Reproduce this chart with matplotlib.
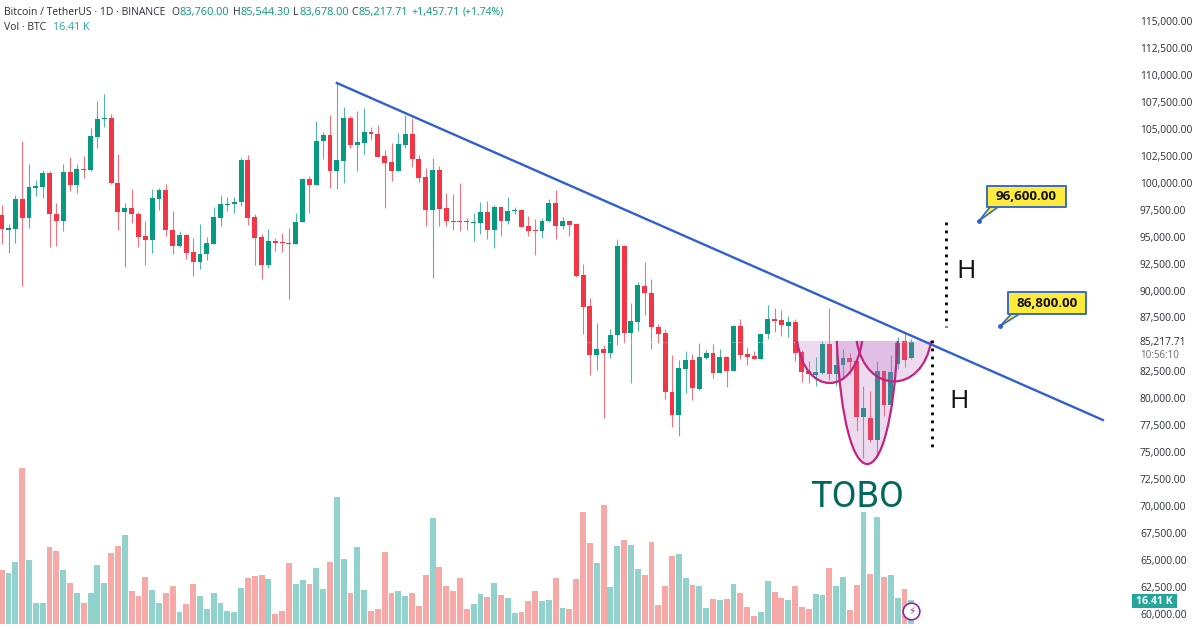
import matplotlib
matplotlib.use("Agg")
from matplotlib import pyplot as plt
from matplotlib.path import Path
from matplotlib.patches import PathPatch, Polygon, Rectangle

# daily candles
opens = [97030,95640,95710,98460,96760,99540,99630,100930,97130,96420,
         100990,99820,101270,101180,104270,105910,105970,100000,97250,97620,
         97130,95090,94690,98490,99290,95640,94100,95150,93540,92610,
         93390,94340,96760,97960,97990,98180,102110,96820,94930,92400,
         94590,94470,94410,94340,96360,100340,99790,103870,104390,101120,
         102040,105970,103530,103680,104700,104550,102480,101920,101120,103500,
         104550,102230,100500,97500,101180,97620,96480,96420,96420,96260,
         96230,97310,95610,97720,96420,97380,97470,95980,95640,95520,
         96420,98120,96020,96420,96140,91440,88560,84050,84570,84230,
         85870,94160,86030,87110,90450,89770,86650,86060,80620,78450,
         82720,83520,80900,83770,84170,82380,83830,82530,86710,84080,
         83930,83650,85940,87390,87230,86740,87050,84330,82530,82190,
         82380,85010,82260,83060,83740,83430,78270,78200,76100,82500,
         79380,83180,85350,83760.00]
closes = [95680,95800,98460,96760,99600,99690,100930,97070,96420,101020,
          99820,101270,101180,104330,105880,106000,99940,97250,97620,97100,
          95000,94690,98550,99290,95580,94130,95150,93510,92610,93420,
          94410,96820,98020,98060,98210,102110,96760,94870,92400,94590,
          94440,94410,94340,96390,100340,99790,103900,104430,101120,102080,
          105970,103500,103750,104700,104520,102420,101860,101120,103560,104550,
          102200,100440,97500,101150,97560,96420,96390,96360,96320,96360,
          97280,95610,97720,96420,97380,97470,95920,95550,95520,96480,
          98120,96020,96420,96080,91380,88500,84020,84570,84200,85870,
          94160,86030,87140,90480,89740,86620,86000,80590,78450,82780,
          83520,80930,83830,84170,82380,83860,82570,86710,84020,83860,
          83650,85990,87390,87170,86770,87050,84230,82470,82260,82410,
          85010,82290,83120,83770,83370,78270,79070,76100,82500,79380,
          82410,85100,83550,85217.71]
highs = [97930,96140,98860,103900,101740,100250,101180,101090,98120,101740,
         102420,101740,102510,105040,107610,108200,106370,102660,98150,99390,
         97310,96420,99390,99480,99850,97380,95550,95240,94900,96140,
         94960,97720,98860,98640,98700,102320,102570,97100,95210,95740,
         94900,95300,95770,97220,100470,100650,105690,104730,106280,109220,
         107050,106190,106680,106930,105140,105350,103030,103650,104640,106280,
         105970,102570,101330,102290,101580,99010,98920,100000,96700,97160,
         98180,98330,97900,97840,98670,97780,97530,96910,96600,96700,
         98520,99320,96790,96510,96170,92430,89270,86960,84950,86400,
         94810,94190,88810,90820,92650,91100,86890,86400,83990,83550,
         84420,84140,85160,84480,85010,84570,83960,86800,87330,84760,
         84420,86000,88630,88350,88160,87640,87360,84480,83460,83800,
         85350,88350,85410,84570,84170,83620,81140,80710,83460,82630,
         84020,85720,86030,85544.30]
lows = [94280,93450,94440,90420,95830,98740,98580,94070,94100,95520,
        99260,99080,100470,101120,103190,105200,99880,95580,92150,96230,
        94070,92370,93450,97500,95090,93390,94070,92890,91380,91960,
        92800,94310,96020,97410,97160,97840,96110,92400,91070,92120,
        93700,93600,89180,94280,96320,97220,99790,102200,99540,99420,
        100000,103220,101120,102630,103960,102350,97650,100160,101090,103190,
        101490,100100,96020,91130,96020,96020,95580,95490,95580,94590,
        95210,94750,93970,95090,96200,97070,95890,95060,93260,94900,
        96360,94780,95710,95060,91220,85940,82160,82630,78200,83710,
        84950,85100,81390,86280,87760,84540,85100,79940,77370,76540,
        80520,79840,80770,83620,81920,82350,81080,82500,83620,83090,
        83620,83620,85470,86180,85780,85720,83490,81550,81450,81140,
        82260,81700,81170,81760,82260,77000,74430,75980,74590,78360,
        78820,82720,82940,83678.00]

# volume in thousands of BTC
volumes = [37.5,35.4,43.5,108.7,44.7,14.9,14.4,53.5,51.0,37.5,
           28.9,21.9,14.4,21.9,41.2,28.9,49.8,54.7,62.1,23.0,
           19.6,32.6,23.7,14.4,21.4,26.3,8.2,14.0,27.7,19.6,
           10.3,21.9,14.9,8.9,8.2,24.9,31.9,33.5,34.2,31.2,
           7.0,8.9,42.4,27.7,30.7,27.7,38.9,24.4,43.1,88.4,
           45.4,21.9,53.5,23.7,8.9,10.3,50.5,21.9,23.0,19.6,
           21.9,12.6,34.2,74.0,40.0,26.3,23.0,31.9,10.3,13.9,
           20.7,18.8,28.8,20.2,18.1,7.4,8.4,16.3,23.0,16.3,
           16.7,31.9,11.1,10.7,31.2,77.9,56.3,42.3,82.8,25.8,
           54.2,58.6,54.9,38.1,34.2,57.2,13.2,26.3,47.4,48.6,
           31.9,27.4,26.7,11.1,17.7,16.7,17.4,27.9,21.8,11.8,
           5.8,8.1,30.0,22.5,18.1,16.7,26.7,11.8,10.2,20.7,
           20.0,39.3,26.7,32.6,9.7,27.4,77.9,34.9,74.7,33.0,
           34.2,18.1,24.4,16.41]

price_ticks = [115000,112500,110000,107500,105000,102500,100000,97500,95000,92500,
               90000,87500,82500,80000,77500,75000,72500,70000,67500,65000,62500,60000]
last_price = 85217.71
countdown = "10:56:10"
last_volume = "16.41 K"

# drawings on the chart, (bar number, price)
trend_x = [49.0, 161.0]
trend_y = [109250, 77990]
# left end, right end, depth control price, rim price
cups = [(116.3, 125.8, 80120, 85320),
        (122.1, 131.0, 70100, 85320),
        (125.0, 135.9, 80310, 85320)]
target_labels = ["96,600.00", "86,800.00"]
target_tips = [(142.9, 96470), (146.0, 86710)]
# left bar, right bar, bottom price, top price
target_boxes = [(144.0, 155.6, 97750, 99690), (147.1, 158.5, 87820, 89860)]

GREEN = "#089981"
RED = "#F23645"
VOL_GREEN = "#92D2CC"
VOL_RED = "#F7A9A7"
TEXT = "#2A2E39"
BLUE = "#2F5FD0"
YELLOW = "#FFEB3B"
BOX_EDGE = "#3A6CC0"

plt.rcParams['font.family'] = ["Open Sans", "DejaVu Sans"]

fig = plt.figure(figsize=(12, 6.29), dpi=100)
ax = fig.add_axes([0, 0, 1, 1])
ax_vol = ax.twinx()
ax.set_zorder(2)
ax_vol.set_zorder(1)
ax.patch.set_visible(False)

# pixel x = 1.67 + 6.84 * bar, pixel y: 92.76 per px from 115000 at y=21
ax.set_xlim(-0.244, 175.2)
ax.set_ylim(58602, 116948)
ax_vol.set_ylim(-3.49, 435.6)

bars = list(range(len(opens)))
colors = [GREEN if c >= o else RED for o, c in zip(opens, closes)]
vol_colors = [VOL_GREEN if c >= o else VOL_RED for o, c in zip(opens, closes)]

ax_vol.bar(bars, volumes, width=0.86, color=vol_colors, linewidth=0)

ax.vlines(bars, lows, highs, colors=colors, linewidth=0.8, alpha=0.7, zorder=2)
ax.bar(bars, [abs(c - o) for o, c in zip(opens, closes)],
       bottom=[min(o, c) for o, c in zip(opens, closes)],
       width=0.72, color=colors, linewidth=0, zorder=3)
# dotted last price line only shows over the candles
ax.axhline(last_price, color="white", linestyle=(0, (1, 2)), linewidth=0.7, alpha=0.8, zorder=3.5)

# TOBO cups
for x0, x1, ctrl, rim in cups:
    w = x1 - x0
    verts = [(x0, rim), (x0 + w * 0.12, ctrl), (x1 - w * 0.12, ctrl), (x1, rim), (x0, rim)]
    codes = [Path.MOVETO, Path.CURVE4, Path.CURVE4, Path.CURVE4, Path.CLOSEPOLY]
    ax.add_patch(PathPatch(Path(verts, codes), facecolor="#B868C0", alpha=0.24,
                           linewidth=0, zorder=4))
    ax.add_patch(PathPatch(Path(verts[:4], codes[:4]), facecolor="none", edgecolor="#C2257F",
                           linewidth=1.6, zorder=5))

ax.plot(trend_x, trend_y, color=BLUE, linewidth=1.7, zorder=6)

# measured move
ax.plot([138.06, 138.06], [96350, 86620], color="black", linestyle=(0, (1, 1.88)), linewidth=2, zorder=6)
ax.plot([136.0, 136.0], [85410, 75020], color="black", linestyle=(0, (1, 1.88)), linewidth=2, zorder=6)
ax.text(141.0, 91750, "H", fontsize=19, ha="center", va="center", color="#111111", zorder=7)
ax.text(140.0, 79700, "H", fontsize=19, ha="center", va="center", color="#111111", zorder=7)
ax.text(125.1, 70800, "TOBO", fontsize=26, family="Roboto", ha="center", va="center",
        color="#00695C", zorder=7)

# targets
for label, tip, (x0, x1, y0, y1) in zip(target_labels, target_tips, target_boxes):
    ax.add_patch(Polygon([tip, (tip[0] + 1.6, y0), (tip[0] + 2.8, y0)], closed=True,
                         facecolor=YELLOW, edgecolor=BOX_EDGE, linewidth=1.2, zorder=7))
    ax.plot(*tip, marker="o", markersize=2.5, color=BLUE, zorder=7)
    ax.add_patch(Rectangle((x0, y0), x1 - x0, y1 - y0, facecolor=YELLOW, edgecolor=BOX_EDGE,
                           linewidth=1.4, joinstyle="round", zorder=7.5))
    ax.text((x0 + x1) / 2, (y0 + y1) / 2, label, fontsize=9.6, fontweight="bold", color="#111111",
            ha="center", va="center", zorder=8)

# price scale inside the figure
ax.yaxis.tick_right()
ax.set_yticks(price_ticks)
ax.set_yticklabels([f"{p:,.2f}" for p in price_ticks])
ax.tick_params(axis="y", length=0, pad=-43.2, labelsize=7.4, labelcolor=TEXT)
ax.tick_params(axis="x", length=0, labelbottom=False)
ax_vol.set_yticks([])
for a in (ax, ax_vol):
    for s in a.spines.values():
        s.set_visible(False)

ax.text(1140 / 1200, 1 - 343 / 629, f"{last_price:,.2f}", transform=ax.transAxes,
        fontsize=7.4, color=TEXT, va="center", ha="left")
ax.text(1140 / 1200, 1 - 355.5 / 629, countdown, transform=ax.transAxes,
        fontsize=7.0, color="#6A6D78", va="center", ha="left")
ax.add_patch(Rectangle((1132 / 1200, 1 - 608 / 629), 45 / 1200, 14 / 629, transform=ax.transAxes,
                       facecolor="#26A69A", edgecolor="none", zorder=8))
ax.text(1154.5 / 1200, 1 - 601 / 629, last_volume, transform=ax.transAxes, fontsize=7.6, color="white",
        fontweight="bold", va="center", ha="center", zorder=9)

# header legend
header = [(3.5, "Bitcoin / TetherUS · 1D · BINANCE", TEXT, 7.5), (171.5, "O", TEXT, 7.5), (179.5, "83,760.00", GREEN, 7.9),
          (233, "H", TEXT, 7.5), (240.5, "85,544.30", GREEN, 7.9), (293, "L", TEXT, 7.5), (299.5, "83,678.00", GREEN, 7.9),
          (351.5, "C", TEXT, 7.5), (358.5, "85,217.71", GREEN, 7.9), (412, "+1,457.71", GREEN, 7.7), (463, "(+1.74%)", GREEN, 7.5)]
for x, s, c, size in header:
    ax.text(x / 1200, 1 - 12.5 / 629, s, transform=ax.transAxes, fontsize=size, color=c, va="center", ha="left")
ax.text(3.5 / 1200, 1 - 27.5 / 629, "Vol · BTC", transform=ax.transAxes, fontsize=7.5, color=TEXT, va="center")
ax.text(53 / 1200, 1 - 27.5 / 629, last_volume, transform=ax.transAxes, fontsize=7.7, color="#26A69A", va="center")

# lightning badge on the last bar
ax.plot(133, 60300, marker="o", markersize=12, markerfacecolor="white", markeredgecolor="#8E24AA",
        markeredgewidth=1.2, zorder=8)
ax.text(133, 60300, "\u26a1", fontsize=7.5, family="DejaVu Sans", color="#8E24AA", ha="center", va="center", zorder=9)

fig.savefig("out.png", dpi=100, facecolor="white")
plt.close("all")
